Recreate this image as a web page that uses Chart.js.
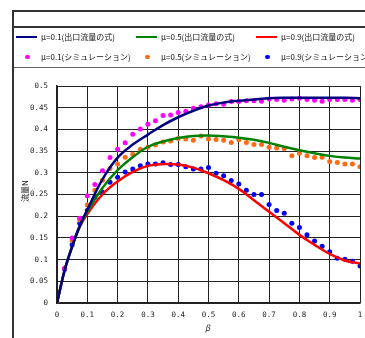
<!DOCTYPE html>
<html><head><meta charset="utf-8">
<script src="https://cdn.jsdelivr.net/npm/chart.js@4/dist/chart.umd.min.js"></script>
<style>
html,body{margin:0;padding:0;background:#fff;width:365px;height:338px;overflow:hidden;position:relative;font-family:"Noto Sans CJK JP",sans-serif;}
#c{position:absolute;left:0;top:0;}
.hl{position:absolute;background:#333;}
.lg{position:absolute;font-size:8px;line-height:10px;color:#111;white-space:nowrap;}
.sw{position:absolute;height:2.5px;width:21px;}
.dot{position:absolute;width:4.5px;height:4.5px;border-radius:50%;}
</style></head>
<body>
<canvas id="c" width="365" height="338"></canvas>
<div class="hl" style="left:12px;top:10px;width:353px;height:2px;"></div>
<div class="hl" style="left:12px;top:26px;width:353px;height:1.5px;"></div>
<div class="hl" style="left:12px;top:67px;width:353px;height:1px;background:#666;"></div>
<div class="hl" style="left:12px;top:10px;width:1.5px;height:328px;"></div>
<div id="legend"></div>
<div class="lg" id="ytitle" style="left:14px;top:186px;transform:rotate(-90deg);transform-origin:center;">流量N</div>
<div class="lg" id="xtitle" style="left:205px;top:323px;font-style:italic;">β</div>
<script>
const simX = [0,0.025,0.05,0.075,0.1,0.125,0.15,0.175,0.2,0.225,0.25,0.275,0.3,0.325,0.35,0.375,0.4,0.425,0.45,0.475,0.5,0.525,0.55,0.575,0.6,0.625,0.65,0.675,0.7,0.725,0.75,0.775,0.8,0.825,0.85,0.875,0.9,0.925,0.95,0.975,1];
const sim01 = [0,0.08,0.15,0.195,0.247,0.273,0.305,0.335,0.354,0.369,0.389,0.401,0.412,0.42,0.432,0.433,0.439,0.442,0.449,0.452,0.456,0.459,0.458,0.464,0.464,0.466,0.466,0.465,0.470,0.469,0.467,0.470,0.472,0.469,0.467,0.465,0.469,0.469,0.469,0.467,0.469];
const sim05 = [0,0.08,0.144,0.191,0.226,0.26,0.283,0.31,0.32,0.336,0.343,0.354,0.359,0.364,0.371,0.373,0.379,0.378,0.375,0.385,0.378,0.377,0.375,0.37,0.376,0.37,0.365,0.365,0.359,0.357,0.356,0.339,0.345,0.339,0.335,0.336,0.326,0.324,0.32,0.32,0.314];
const sim09 = [0,0.078,0.134,0.184,0.213,0.243,0.255,0.278,0.29,0.302,0.309,0.316,0.32,0.32,0.323,0.319,0.319,0.314,0.309,0.309,0.312,0.299,0.293,0.282,0.274,0.26,0.25,0.25,0.227,0.213,0.207,0.184,0.174,0.157,0.143,0.131,0.118,0.103,0.101,0.096,0.085];
const lineX = [0,0.025,0.05,0.075,0.1,0.15,0.2,0.25,0.3,0.35,0.4,0.45,0.5,0.55,0.6,0.65,0.7,0.75,0.8,0.85,0.9,0.95,1];
const eq01 = [0,0.075,0.13,0.178,0.215,0.285,0.335,0.365,0.388,0.41,0.428,0.443,0.455,0.462,0.466,0.469,0.472,0.473,0.473,0.473,0.473,0.473,0.472];
const eq05 = [0,0.075,0.13,0.176,0.21,0.265,0.306,0.336,0.36,0.372,0.38,0.385,0.386,0.384,0.381,0.376,0.369,0.36,0.352,0.345,0.339,0.335,0.333];
const eq09 = [0,0.075,0.13,0.175,0.205,0.25,0.28,0.302,0.316,0.32,0.319,0.312,0.299,0.283,0.263,0.237,0.21,0.184,0.157,0.134,0.113,0.098,0.091];
const xTickLabels = ["0","0.1","0.2","0.3","0.4","0.5","0.6","0.7","0.8","0.9","1"];
const yTickLabels = ["0","0.05","0.1","0.15","0.2","0.25","0.3","0.35","0.4","0.45","0.5"];
const seriesNames = ["μ=0.1(出口流量の式)","μ=0.5(出口流量の式)","μ=0.9(出口流量の式)","μ=0.1(シミュレーション)","μ=0.5(シミュレーション)","μ=0.9(シミュレーション)"];
const colors = ["#000080","#008000","#ff0000","#ff00ff","#ff6a13","#0000ff"];
const xTitle = "β", yTitle = "流量N";

function pts(xs, ys){ return xs.map((x,i)=>({x:x,y:ys[i]})); }
const lineSets = [eq01,eq05,eq09].map((d,i)=>({
  label: seriesNames[i], data: pts(lineX,d), borderColor: colors[i], backgroundColor: colors[i],
  borderWidth: 2.5, pointRadius: 0, showLine: true, tension: 0.4, fill: false
}));
const dotSets = [sim01,sim05,sim09].map((d,i)=>({
  label: seriesNames[i+3], data: pts(simX,d), borderColor: colors[i+3], backgroundColor: colors[i+3],
  pointRadius: 2.5, pointBorderWidth: 0, showLine: false
}));

const lg = document.getElementById('legend');
seriesNames.forEach((n,i)=>{
  const col = i%3, row = Math.floor(i/3);
  const x0 = 16 + col*120, yc = row===0 ? 37 : 57;
  const sw = document.createElement('div');
  if(row===0){ sw.className='sw'; sw.style.left=x0+'px'; sw.style.top=(yc-1.25)+'px'; sw.style.background=colors[i]; }
  else { sw.className='dot'; sw.style.left=(x0+9)+'px'; sw.style.top=(yc-2.25)+'px'; sw.style.background=colors[i]; }
  lg.appendChild(sw);
  const t = document.createElement('div');
  t.className='lg'; t.textContent=n; t.style.left=(x0+25)+'px'; t.style.top=(yc-5.5)+'px';
  lg.appendChild(t);
});
document.getElementById('ytitle').textContent = yTitle;
document.getElementById('xtitle').textContent = xTitle;

const tickFont = {family:"'DejaVu Sans Mono', monospace", size:7.5};
new Chart(document.getElementById('c'), {
  type: 'scatter',
  data: { datasets: [...lineSets, ...dotSets] },
  options: {
    responsive: false, animation: false, devicePixelRatio: 1,
    layout: { padding: {left:0, right:5, top:86, bottom:0} },
    plugins: { legend: {display:false}, tooltip: {enabled:false} },
    scales: {
      x: { type:'linear', min:0, max:1,
        ticks: { stepSize:0.1, color:'#222', font:tickFont, padding:8, maxRotation:0,
          callback:(v,i)=>xTickLabels[i] },
        grid: { color:'#222', lineWidth:1, drawTicks:false },
        border: { color:'#222', width:1.5 },
        afterFit: s => { s.height = 35; s.paddingLeft = 0; s.paddingRight = 0; } },
      y: { type:'linear', min:0, max:0.5,
        ticks: { stepSize:0.05, color:'#222', font:tickFont, padding:9,
          callback:(v,i)=>yTickLabels[i] },
        grid: { color:'#222', lineWidth:1, drawTicks:false },
        border: { color:'#222', width:1.5 },
        afterFit: s => { s.width = 57; s.paddingTop = 0; s.paddingBottom = 0; } }
    }
  }
});
</script>
</body></html>
